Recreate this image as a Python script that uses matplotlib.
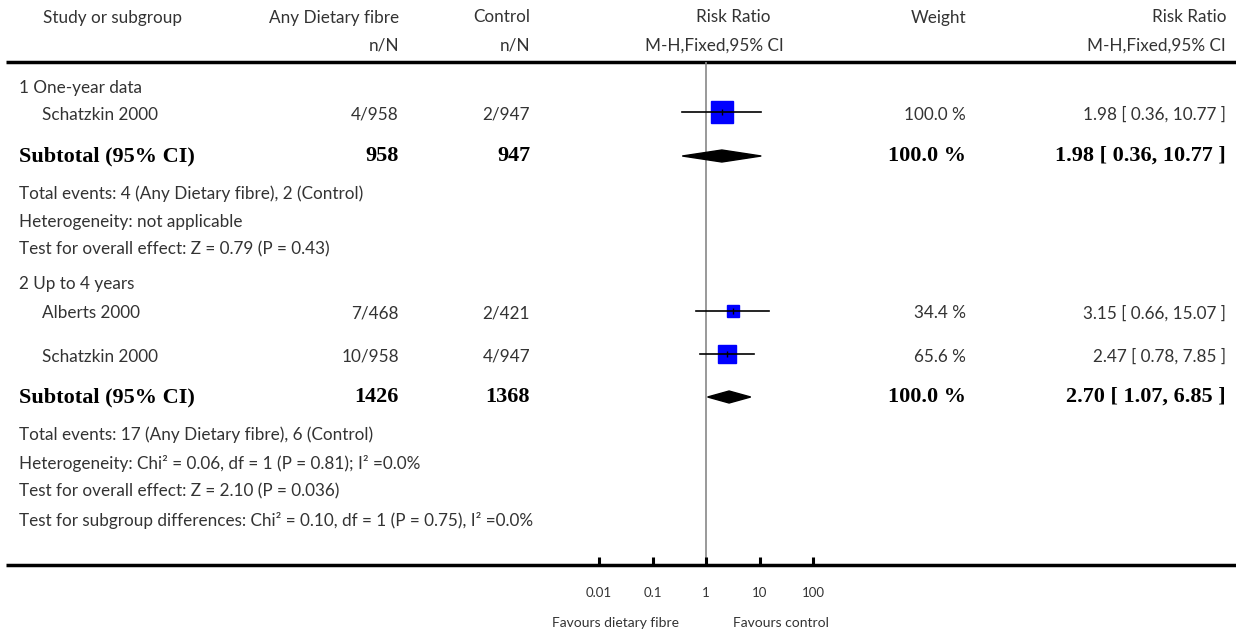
import matplotlib
matplotlib.use("Agg")
import matplotlib.pyplot as plt
import numpy as np

# ---------------- data ----------------
study_labels = ["Schatzkin 2000", "Alberts 2000", "Schatzkin 2000"]
exp_events = ["4/958", "7/468", "10/958"]
ctl_events = ["2/947", "2/421", "4/947"]
study_rr = [1.98, 3.15, 2.47]
study_lo = [0.36, 0.66, 0.78]
study_hi = [10.77, 15.07, 7.85]
study_weight = [100.0, 34.4, 65.6]

sub_rr = [1.98, 2.70]
sub_lo = [0.36, 1.07]
sub_hi = [10.77, 6.85]
sub_exp_total = ["958", "1426"]
sub_ctl_total = ["947", "1368"]
sub_weight = ["100.0 %", "100.0 %"]

group_labels = ["1 One-year data", "2 Up to 4 years"]
group_notes = [
    ["Total events: 4 (Any Dietary fibre), 2 (Control)",
     "Heterogeneity: not applicable",
     "Test for overall effect: Z = 0.79 (P = 0.43)"],
    ["Total events: 17 (Any Dietary fibre), 6 (Control)",
     "Heterogeneity: Chi\u00b2 = 0.06, df = 1 (P = 0.81); I\u00b2 =0.0%",
     "Test for overall effect: Z = 2.10 (P = 0.036)",
     "Test for subgroup differences: Chi\u00b2 = 0.10, df = 1 (P = 0.75), I\u00b2 =0.0%"],
]
tick_values = [0.01, 0.1, 1, 10, 100]
tick_labels = ["0.01", "0.1", "1", "10", "100"]
left_label = "Favours dietary fibre"
right_label = "Favours control"

# ---------------- layout ----------------
W, H = 1236, 635
fig = plt.figure(figsize=(W / 100, H / 100), dpi=100)
ax = fig.add_axes([0, 0, 1, 1])
ax.set_xlim(0, W)
ax.set_ylim(H, 0)
ax.axis("off")

SANS = ["Lato", "DejaVu Sans"]
SERIF = ["Liberation Serif", "DejaVu Serif"]
GRAY = "#333333"
FS = 12.3
FSB = 16

x_name_grp = 19
x_name = 42
x_exp = 399
x_ctl = 530
x_w = 966
x_rr = 1226

def txt(x, y, s, ha="left", bold=False, size=None, color=None):
    if bold:
        ax.text(x, y, s, ha=ha, va="center", fontsize=size or FSB,
                family=SERIF, fontweight="bold", color=color or "black")
    else:
        ax.text(x, y + 1.5, s, ha=ha, va="center", fontsize=size or FS,
                family=SANS, color=color or GRAY)

# header
txt(43, 16, "Study or subgroup")
txt(x_exp, 16, "Any Dietary fibre", ha="right")
txt(x_ctl, 16, "Control", ha="right")
txt(733, 16, "Risk Ratio", ha="center")
txt(x_w, 16, "Weight", ha="right")
txt(x_rr, 16, "Risk Ratio", ha="right")
txt(x_exp, 44, "n/N", ha="right")
txt(x_ctl, 44, "n/N", ha="right")
txt(714, 44, "M-H,Fixed,95% CI", ha="center")
txt(x_rr, 44, "M-H,Fixed,95% CI", ha="right")
ax.plot([6, W], [62, 62], color="black", lw=2.5, solid_capstyle="butt")
ax.plot([6, W], [565, 565], color="black", lw=2.5, solid_capstyle="butt")

# row positions
group_y = [86, 283]
study_y = [112, 311, 354]
sub_y = [156, 397]
note_y = [[192, 220, 248], [433, 462, 490, 519]]

# forest axes (log scale), y in pixel units
x0, x1 = 599, 813
fax = fig.add_axes([x0 / W, (H - 565) / H, (x1 - x0) / W, (565 - 62) / H])
fax.set_xscale("log")
fax.set_xlim(0.01, 100)
fax.set_ylim(565, 62)
fax.patch.set_visible(False)
for s in fax.spines.values():
    s.set_visible(False)
fax.set_yticks([])
fax.set_xticks(tick_values)
fax.set_xticklabels(tick_labels, family=SANS, fontsize=9.5, color=GRAY)
fax.xaxis.set_minor_locator(matplotlib.ticker.NullLocator())
fax.tick_params(axis="x", direction="in", length=6, width=2.2, pad=16, color="black")
fax.axvline(1, color="#888888", lw=1.2, zorder=1)

for i in range(len(study_labels)):
    y = study_y[i]
    fax.plot([study_lo[i], study_hi[i]], [y, y], color="black", lw=1.2, zorder=3)
    side = 22 * np.sqrt(study_weight[i] / 100.0) * 0.72
    fax.plot([study_rr[i]], [y], marker="s", ms=side, color="#0000FF",
             mec="#0000FF", ls="none", zorder=2)
    fax.plot([study_rr[i]], [y], marker="|", ms=5, color="black", mew=1, zorder=4)
    txt(x_name, y + 1, study_labels[i])
    txt(x_exp, y + 1, exp_events[i], ha="right")
    txt(x_ctl, y + 1, ctl_events[i], ha="right")
    txt(x_w, y + 1, f"{study_weight[i]:.1f} %", ha="right")
    txt(x_rr, y + 1, f"{study_rr[i]:.2f} [ {study_lo[i]:.2f}, {study_hi[i]:.2f} ]", ha="right")

for g in range(2):
    txt(x_name_grp, group_y[g], group_labels[g])
    y = sub_y[g]
    dx = [sub_lo[g], sub_rr[g], sub_hi[g], sub_rr[g]]
    fax.fill(dx, [y, y - 6, y, y + 6], color="black", zorder=3)
    txt(x_name_grp, y, "Subtotal (95% CI)", bold=True)
    txt(x_exp, y, sub_exp_total[g], ha="right", bold=True)
    txt(x_ctl, y, sub_ctl_total[g], ha="right", bold=True)
    txt(x_w, y, sub_weight[g], ha="right", bold=True)
    txt(x_rr, y, f"{sub_rr[g]:.2f} [ {sub_lo[g]:.2f}, {sub_hi[g]:.2f} ]", ha="right", bold=True)
    for k, note in enumerate(group_notes[g]):
        txt(x_name_grp, note_y[g][k], note)

ax.text(615, 623, left_label, ha="center", va="center", fontsize=10, family=SANS, color=GRAY)
ax.text(781, 623, right_label, ha="center", va="center", fontsize=10, family=SANS, color=GRAY)

fig.savefig("out.png", dpi=100)
